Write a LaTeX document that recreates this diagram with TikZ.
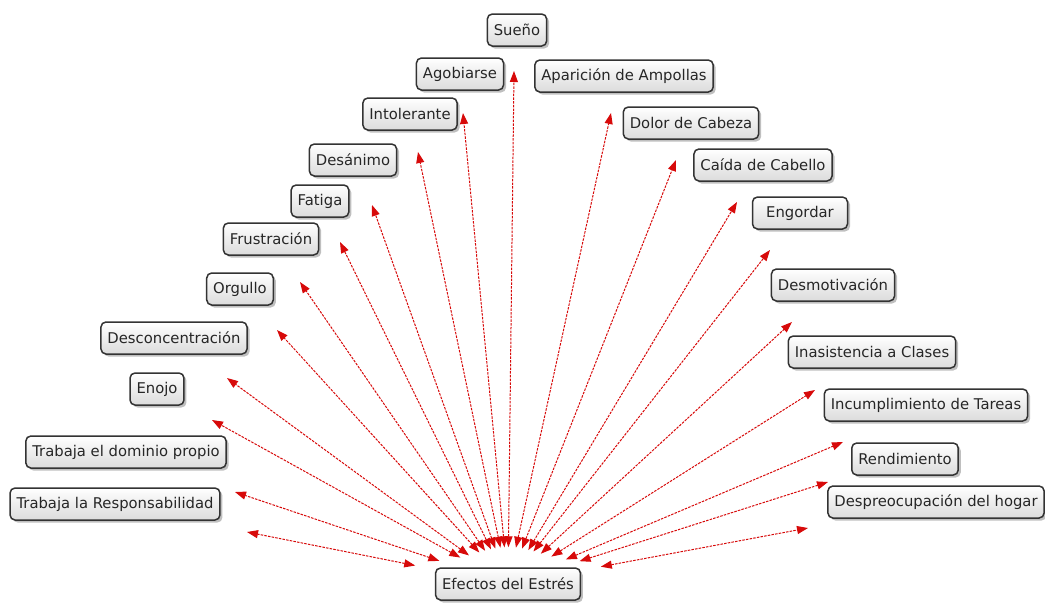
\documentclass[tikz,border=0pt]{standalone}
\usepackage{fontspec}
\setmainfont{DejaVu Sans}
\usetikzlibrary{arrows.meta,shadows}
\definecolor{arrowred}{RGB}{215,10,10}

\begin{document}
\begin{tikzpicture}[
        x=1pt, y=-1pt,
        block/.style={rectangle, draw=black!80, line width=1.5pt, rounded corners=5pt, top color=white, bottom color=black!14, minimum height=32pt, inner xsep=6.5pt, text=black!85, font=\fontsize{14.8}{17}\selectfont, drop shadow={shadow xshift=2.5pt, shadow yshift=-2.5pt, opacity=0.5}},
        arrow/.style={{Triangle[length=11pt,width=8pt]}-{Triangle[length=11pt,width=8pt]}, arrowred, line width=1pt, dash pattern=on 2.5pt off 1.2pt, shorten <=20pt}
    ]
        \useasboundingbox (0,0) rectangle (1045,603);

        % centre
        \node[block] (efectos) at (508,584) {Efectos del Estrés};

        % left side
        \node[block] (sueno) at (517,30) {Sueño};
        \node[block] (agob) at (460,74) {Agobiarse};
        \node[block] (intol) at (410,114) {Intolerante};
        \node[block] (desan) at (353,160) {Desánimo};
        \node[block] (fatiga) at (320,201) {Fatiga};
        \node[block] (frust) at (271,239) {Frustración};
        \node[block] (orgullo) at (240,289) {Orgullo};
        \node[block] (descon) at (174,338) {Desconcentración};
        \node[block] (enojo) at (157,389) {Enojo};
        \node[block] (dominio) at (126,452) {Trabaja el dominio propio};
        \node[block] (resp) at (115,504) {Trabaja la Responsabilidad};

        % right side
        \node[block] (ampollas) at (624,76) {Aparición de Ampollas};
        \node[block] (cabeza) at (691,123) {Dolor de Cabeza};
        \node[block] (cabello) at (763,165) {Caída de Cabello};
        \node[block, minimum width=95pt] (engordar) at (800,213) {Engordar};
        \node[block] (desmot) at (833,285) {Desmotivación};
        \node[block] (inasist) at (872,352) {Inasistencia a Clases};
        \node[block] (tareas) at (926,405) {Incumplimiento de Tareas};
        \node[block] (rend) at (905,459) {Rendimiento};
        \node[block] (hogar) at (936,502) {Despreocupación del hogar};

        % arrow ends
        \coordinate (t-sueno) at (514,71);
        \coordinate (t-agob) at (463,113);
        \coordinate (t-intol) at (418,152);
        \coordinate (t-desan) at (372,205);
        \coordinate (t-fatiga) at (340,242);
        \coordinate (t-frust) at (300,282);
        \coordinate (t-orgullo) at (277,330);
        \coordinate (t-descon) at (227,378);
        \coordinate (t-enojo) at (212,420);
        \coordinate (t-dominio) at (235,492);
        \coordinate (t-resp) at (247,532);
        \coordinate (t-ampollas) at (611,113);
        \coordinate (t-cabeza) at (676,160);
        \coordinate (t-cabello) at (737,202);
        \coordinate (t-engordar) at (770,250);
        \coordinate (t-desmot) at (792,322);
        \coordinate (t-inasist) at (815,390);
        \coordinate (t-tareas) at (843,442);
        \coordinate (t-rend) at (828,482);
        \coordinate (t-hogar) at (808,528);

        \draw[arrow] (efectos) -- (t-sueno);
        \draw[arrow] (efectos) -- (t-agob);
        \draw[arrow] (efectos) -- (t-intol);
        \draw[arrow] (efectos) -- (t-desan);
        \draw[arrow] (efectos) -- (t-fatiga);
        \draw[arrow] (efectos) -- (t-frust);
        \draw[arrow] (efectos) -- (t-orgullo);
        \draw[arrow] (efectos) -- (t-descon);
        \draw[arrow] (efectos) -- (t-enojo);
        \draw[arrow] (efectos) -- (t-dominio);
        \draw[arrow] (efectos) -- (t-resp);
        \draw[arrow] (efectos) -- (t-ampollas);
        \draw[arrow] (efectos) -- (t-cabeza);
        \draw[arrow] (efectos) -- (t-cabello);
        \draw[arrow] (efectos) -- (t-engordar);
        \draw[arrow] (efectos) -- (t-desmot);
        \draw[arrow] (efectos) -- (t-inasist);
        \draw[arrow] (efectos) -- (t-tareas);
        \draw[arrow] (efectos) -- (t-rend);
        \draw[arrow] (efectos) -- (t-hogar);
    \end{tikzpicture}
\end{document}
